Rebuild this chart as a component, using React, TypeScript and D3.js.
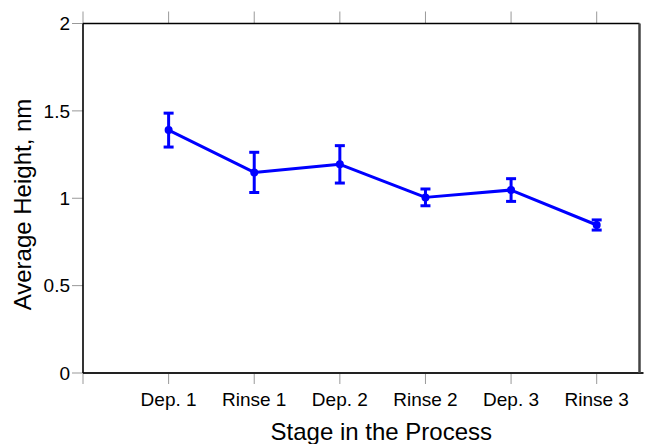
import React from "react";
import * as d3 from "d3";

const categories = ["Dep. 1", "Rinse 1", "Dep. 2", "Rinse 2", "Dep. 3", "Rinse 3"];
const means = [1.39, 1.148, 1.194, 1.005, 1.047, 0.847];
const errors = [0.097, 0.115, 0.107, 0.048, 0.065, 0.029];
const yTicks = [0, 0.5, 1, 1.5, 2];
const yTickLabels = ["0", "0.5", "1", "1.5", "2"];
const xTickPositions = [0, 1, 2, 3, 4, 5, 6];

const W = 648;
const H = 444;
const left = 83;
const right = 639.5;
const top = 23.5;
const bottom = 373;

export default function App() {
  const x = d3.scaleLinear().domain([0, 6.5]).range([left, right]);
  const y = d3.scaleLinear().domain([0, 2]).range([bottom, top]);
  const data = categories.map((c, i) => ({ c, i: i + 1, m: means[i], e: errors[i] }));
  const line = d3
    .line<{ i: number; m: number }>()
    .x((d) => x(d.i))
    .y((d) => y(d.m));
  const font = "'Liberation Sans', Arial, sans-serif";
  const blue = "#0000ff";
  return (
    <svg
      width={W}
      height={H}
      style={{ position: "absolute", left: 0, top: 0, background: "#fff" }}
      fontFamily={font}
    >
      {/* ticks */}
      {xTickPositions.map((t) => (
        <g key={"xt" + t} stroke="#999" strokeWidth={1}>
          <line x1={x(t)} x2={x(t)} y1={bottom} y2={bottom + 11} />
          <line x1={x(t)} x2={x(t)} y1={top} y2={top - 12} />
        </g>
      ))}
      {yTicks.map((t) => (
        <line key={"yt" + t} x1={left - 11} x2={left} y1={y(t)} y2={y(t)} stroke="#999" strokeWidth={1} />
      ))}
      {/* box */}
      <line x1={left} x2={right + 4} y1={bottom} y2={bottom} stroke="#222" strokeWidth={2} />
      <line x1={left} x2={right} y1={top} y2={top} stroke="#000" strokeWidth={1.6} />
      <line x1={left} x2={left} y1={top} y2={bottom} stroke="#000" strokeWidth={1.6} />
      <line x1={right} x2={right} y1={top} y2={bottom} stroke="#444" strokeWidth={2.5} />
      {/* y labels */}
      {yTicks.map((t, i) => (
        <text key={"yl" + t} x={left - 13} y={y(t)} dy="0.36em" textAnchor="end" fontSize={19} fill="#000">
          {yTickLabels[i]}
        </text>
      ))}
      {/* x labels */}
      {data.map((d) => (
        <text key={"xl" + d.c} x={x(d.i)} y={406} textAnchor="middle" fontSize={19} fill="#000">
          {d.c}
        </text>
      ))}
      {/* axis titles */}
      <text x={(left + right) / 2 + 20} y={440} textAnchor="middle" fontSize={24} fill="#000">
        Stage in the Process
      </text>
      <text
        transform={`translate(31,${(91 + 318) / 2}) rotate(-90)`}
        textAnchor="middle"
        fontSize={24}
        fill="#000"
      >
        Average Height, nm
      </text>
      {/* series */}
      <path d={line(data) || ""} fill="none" stroke={blue} strokeWidth={3} strokeLinejoin="round" />
      {data.map((d) => (
        <g key={"e" + d.c} stroke={blue} strokeWidth={3}>
          <line x1={x(d.i)} x2={x(d.i)} y1={y(d.m + d.e)} y2={y(d.m - d.e)} />
          <line x1={x(d.i) - 5} x2={x(d.i) + 5} y1={y(d.m + d.e)} y2={y(d.m + d.e)} />
          <line x1={x(d.i) - 5} x2={x(d.i) + 5} y1={y(d.m - d.e)} y2={y(d.m - d.e)} />
        </g>
      ))}
      {data.map((d) => (
        <circle key={"p" + d.c} cx={x(d.i)} cy={y(d.m)} r={4} fill={blue} />
      ))}
    </svg>
  );
}
